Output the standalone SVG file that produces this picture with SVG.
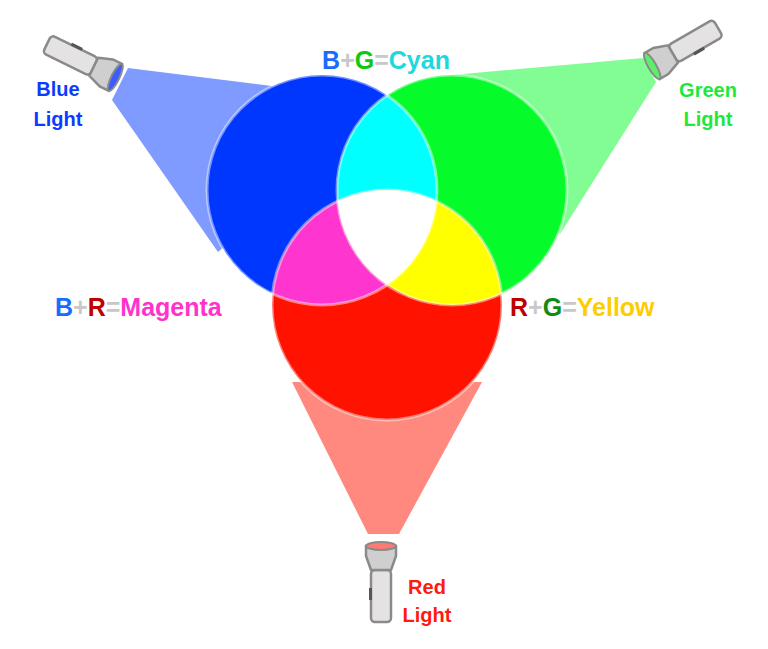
<svg xmlns="http://www.w3.org/2000/svg" width="768" height="649" viewBox="0 0 768 649">
<style>
text{font-family:"Liberation Sans",Arial,sans-serif;font-weight:bold}
.lb{font-size:20px;text-anchor:middle}
.eq{font-size:25px}
.g{fill:#c8c8c8}
.body{fill:#e4e2e2;stroke:#8a8a8a;stroke-width:2.5;stroke-linejoin:round}
.ring{fill:#cfcfcf;stroke:#8a8a8a;stroke-width:2.5}
.out{fill:none;stroke:#fff;stroke-opacity:0.45;stroke-width:3}
</style>
<defs>
<clipPath id="cb"><circle cx="322" cy="190" r="115"/></clipPath>
<clipPath id="cg"><circle cx="452" cy="190" r="115"/></clipPath>
<clipPath id="cgb" clip-path="url(#cb)"><circle cx="452" cy="190" r="115"/></clipPath>
<g id="fl">
<rect class="body" x="0" y="-10" width="52" height="20" rx="4"/>
<path class="ring" d="M52,-10 L66,-15 L76,-15 L76,15 L66,15 L52,10 Z"/>
<rect x="22" y="-12" width="12" height="3" fill="#555"/>
</g>
</defs>
<g id="beams" opacity="0.5">
<polygon points="128,68 385,100 218,252 112,100" fill="#0037ff"/>
<polygon points="643,58 452,75 560,234 656,82" fill="#05fb2a"/>
<polygon points="368,534 292,382 482,382 399,534" fill="#ff1300"/>
</g>
<g id="circles">
<circle cx="322" cy="190" r="115" fill="#0037ff"/>
<circle cx="452" cy="190" r="115" fill="#05fb2a"/>
<circle cx="387" cy="305" r="115" fill="#ff1300"/>
<circle cx="452" cy="190" r="115" fill="#00ffff" clip-path="url(#cb)"/>
<circle cx="387" cy="305" r="115" fill="#ff35d0" clip-path="url(#cb)"/>
<circle cx="387" cy="305" r="115" fill="#ffff00" clip-path="url(#cg)"/>
<circle cx="387" cy="305" r="115" fill="#ffffff" clip-path="url(#cgb)"/>
<circle class="out" cx="322" cy="190" r="115"/>
<circle class="out" cx="452" cy="190" r="115"/>
<circle class="out" cx="387" cy="305" r="115"/>
</g>
<g id="blue-light">
<use href="#fl" transform="translate(47,44) rotate(26)"/>
<ellipse cx="0" cy="0" rx="4" ry="15" fill="#3c5cff" stroke="#8a8a8a" stroke-width="2" transform="translate(47,44) rotate(26) translate(76,0)"/>
<text class="lb" x="58" y="96" fill="#0a3cff">Blue</text>
<text class="lb" x="58" y="126" fill="#0a3cff">Light</text>
</g>
<g id="green-light">
<use href="#fl" transform="translate(718,28) rotate(150)"/>
<ellipse cx="0" cy="0" rx="4" ry="15" fill="#5cf06a" stroke="#8a8a8a" stroke-width="2" transform="translate(718,28) rotate(150) translate(76,0)"/>
<text class="lb" x="708" y="97" fill="#1ee83c">Green</text>
<text class="lb" x="708" y="126" fill="#1ee83c">Light</text>
</g>
<g id="red-light">
<use href="#fl" transform="translate(381,622) rotate(-90)"/>
<ellipse cx="0" cy="0" rx="4" ry="15" fill="#ff7a70" stroke="#8a8a8a" stroke-width="2" transform="translate(381,622) rotate(-90) translate(76,0)"/>
<text class="lb" x="427" y="594" fill="#ff1a10">Red</text>
<text class="lb" x="427" y="622" fill="#ff1a10">Light</text>
</g>
<g id="labels">
<text class="eq" x="386" y="69" text-anchor="middle"><tspan fill="#1a6cff">B</tspan><tspan class="g">+</tspan><tspan fill="#10c810">G</tspan><tspan class="g">=</tspan><tspan fill="#1ed8e0">Cyan</tspan></text>
<text class="eq" x="55" y="316"><tspan fill="#1a6cff">B</tspan><tspan class="g">+</tspan><tspan fill="#c00000">R</tspan><tspan class="g">=</tspan><tspan fill="#ff33cc">Magenta</tspan></text>
<text class="eq" x="510" y="316"><tspan fill="#c00000">R</tspan><tspan class="g">+</tspan><tspan fill="#108a10">G</tspan><tspan class="g">=</tspan><tspan fill="#ffcc00">Yellow</tspan></text>
</g>
</svg>
